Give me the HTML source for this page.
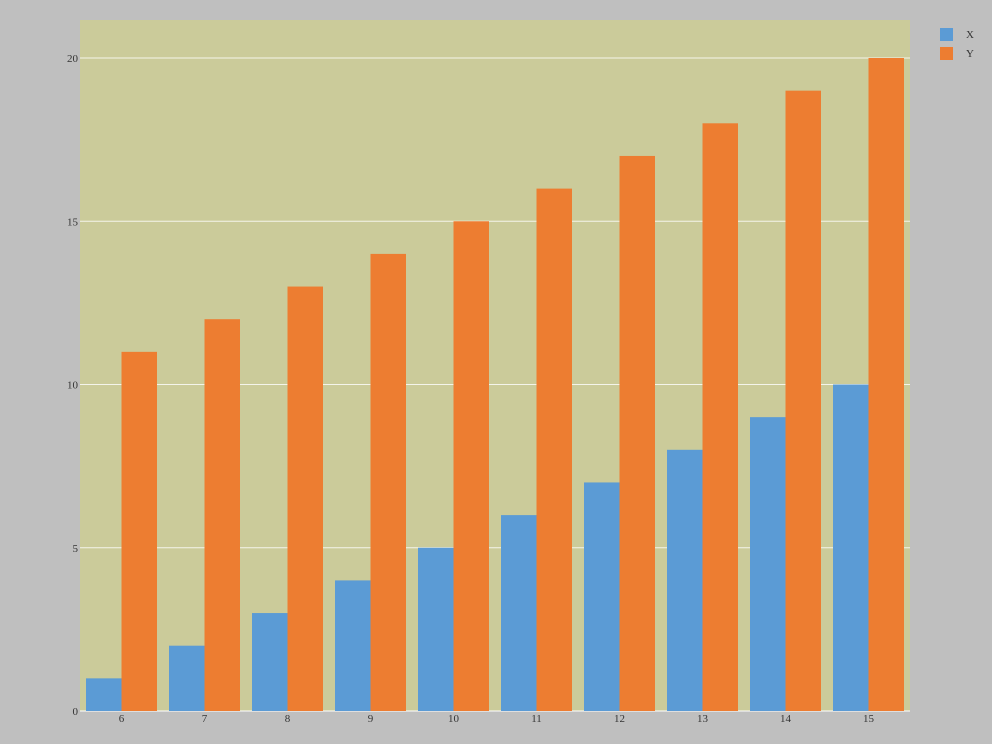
<!DOCTYPE html>
<html><head><meta charset="utf-8"><style>
body{margin:0;background:#bfbfbf;}
svg{display:block;font-family:"Liberation Serif",serif;}
</style></head><body>
<svg id="c" width="992" height="744" xmlns="http://www.w3.org/2000/svg">
<rect x="0" y="0" width="992" height="744" fill="#bfbfbf"/>
<rect x="80" y="20" width="830" height="691" fill="#cbcb9a"/>
<g id="grid"></g><g id="bars"></g><g id="axes"></g>
<g>
<rect x="940" y="28" width="13" height="13" fill="#5b9bd5"/>
<text x="966" y="38" font-size="11" fill="#333">X</text>
<rect x="940" y="47" width="13" height="13" fill="#ed7d31"/>
<text x="966" y="57" font-size="11" fill="#333">Y</text>
</g>
</svg>
<script>
const categories=[6,7,8,9,10,11,12,13,14,15];
const seriesX=[1,2,3,4,5,6,7,8,9,10];
const seriesY=[11,12,13,14,15,16,17,18,19,20];
const yTicks=[0,5,10,15,20];
const NS="http://www.w3.org/2000/svg";
const L=80,R=910,B=711,T=58,yMax=20;
const band=(R-L)/categories.length;
const yS=v=>B-(v/yMax)*(B-T);
function mk(tag,attrs,parent){const e=document.createElementNS(NS,tag);for(const k in attrs)e.setAttribute(k,attrs[k]);parent.appendChild(e);return e;}
const grid=document.getElementById('grid'),bars=document.getElementById('bars'),axes=document.getElementById('axes');
yTicks.forEach(t=>{
 const y=yS(t);
 const ln=mk('line',{x1:L,x2:R,y1:y,y2:y,stroke:'#ffffff','stroke-width':1,opacity:t===0?1:0.8},grid);
 
 
 const tx=mk('text',{x:L-2,y:y+4,'text-anchor':'end','font-size':11,fill:'#333'},axes);
 tx.textContent=t;
 
 
});
categories.forEach((c,i)=>{
 const x0=L+i*band+6,w=35.5;
 const bx=mk('rect',{x:x0,y:yS(seriesX[i]),width:w,height:B-yS(seriesX[i]),fill:'#5b9bd5'},bars);
 
 
 const by=mk('rect',{x:x0+w,y:yS(seriesY[i]),width:w,height:B-yS(seriesY[i]),fill:'#ed7d31'},bars);
 
 
 const tx=mk('text',{x:x0+w,y:B+11,'text-anchor':'middle','font-size':11,fill:'#333'},axes);
 tx.textContent=c;
 
 
});
</script>
</body></html>
